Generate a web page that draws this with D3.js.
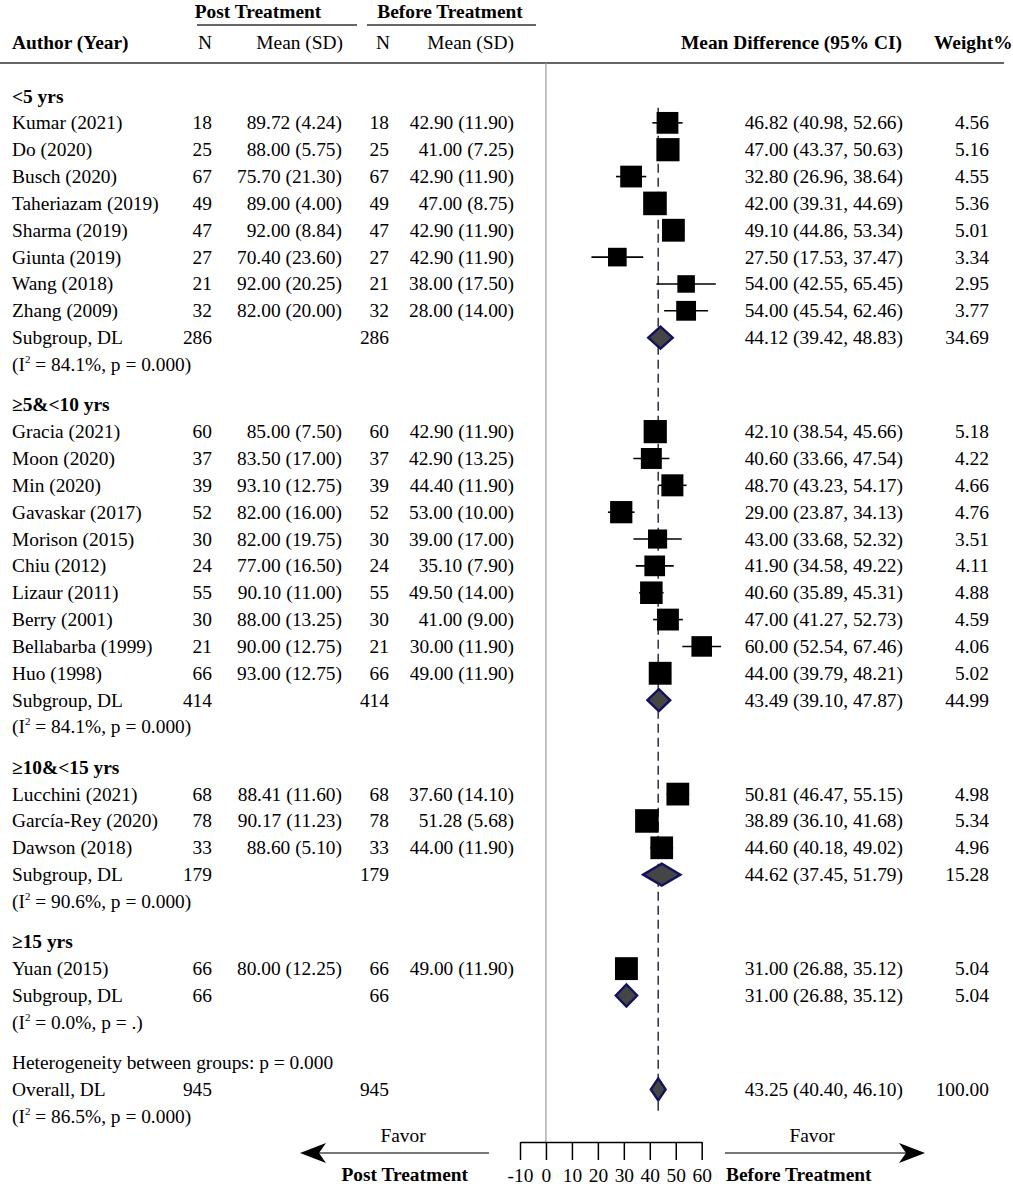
<!DOCTYPE html>
<html>
<head>
<meta charset="utf-8">
<script src="https://cdn.jsdelivr.net/npm/d3@7"></script>
<style>
  body { margin: 0; background: #fff; }
  text { font-family: "Liberation Serif", "Times New Roman", serif; font-size: 19.4px; fill: #000; }
</style>
</head>
<body>
<script>
// ---- data ----
const groupLabels = ["<5 yrs", "≥5&<10 yrs", "≥10&<15 yrs", "≥15 yrs"];

const studyNames = [
  "Kumar (2021)", "Do (2020)", "Busch (2020)", "Taheriazam (2019)", "Sharma (2019)",
  "Giunta (2019)", "Wang (2018)", "Zhang (2009)",
  "Gracia (2021)", "Moon (2020)", "Min (2020)", "Gavaskar (2017)", "Morison (2015)",
  "Chiu (2012)", "Lizaur (2011)", "Berry (2001)", "Bellabarba (1999)", "Huo (1998)",
  "Lucchini (2021)", "García-Rey (2020)", "Dawson (2018)",
  "Yuan (2015)"
];
const studyGroup = [0, 0, 0, 0, 0, 0, 0, 0, 1, 1, 1, 1, 1, 1, 1, 1, 1, 1, 2, 2, 2, 3];

const postN    = [18, 25, 67, 49, 47, 27, 21, 32, 60, 37, 39, 52, 30, 24, 55, 30, 21, 66, 68, 78, 33, 66];
const postMean = [89.72, 88.00, 75.70, 89.00, 92.00, 70.40, 92.00, 82.00, 85.00, 83.50, 93.10, 82.00, 82.00,
                  77.00, 90.10, 88.00, 90.00, 93.00, 88.41, 90.17, 88.60, 80.00];
const postSD   = [4.24, 5.75, 21.30, 4.00, 8.84, 23.60, 20.25, 20.00, 7.50, 17.00, 12.75, 16.00, 19.75,
                  16.50, 11.00, 13.25, 12.75, 12.75, 11.60, 11.23, 5.10, 12.25];

const beforeN    = [18, 25, 67, 49, 47, 27, 21, 32, 60, 37, 39, 52, 30, 24, 55, 30, 21, 66, 68, 78, 33, 66];
const beforeMean = [42.90, 41.00, 42.90, 47.00, 42.90, 42.90, 38.00, 28.00, 42.90, 42.90, 44.40, 53.00, 39.00,
                    35.10, 49.50, 41.00, 30.00, 49.00, 37.60, 51.28, 44.00, 49.00];
const beforeSD   = [11.90, 7.25, 11.90, 8.75, 11.90, 11.90, 17.50, 14.00, 11.90, 13.25, 11.90, 10.00, 17.00,
                    7.90, 14.00, 9.00, 11.90, 11.90, 14.10, 5.68, 11.90, 11.90];

const mdEst  = [46.82, 47.00, 32.80, 42.00, 49.10, 27.50, 54.00, 54.00, 42.10, 40.60, 48.70, 29.00, 43.00,
                41.90, 40.60, 47.00, 60.00, 44.00, 50.81, 38.89, 44.60, 31.00];
const mdLow  = [40.98, 43.37, 26.96, 39.31, 44.86, 17.53, 42.55, 45.54, 38.54, 33.66, 43.23, 23.87, 33.68,
                34.58, 35.89, 41.27, 52.54, 39.79, 46.47, 36.10, 40.18, 26.88];
const mdHigh = [52.66, 50.63, 38.64, 44.69, 53.34, 37.47, 65.45, 62.46, 45.66, 47.54, 54.17, 34.13, 52.32,
                49.22, 45.31, 52.73, 67.46, 48.21, 55.15, 41.68, 49.02, 35.12];
const weightPct = [4.56, 5.16, 4.55, 5.36, 5.01, 3.34, 2.95, 3.77, 5.18, 4.22, 4.66, 4.76, 3.51,
                   4.11, 4.88, 4.59, 4.06, 5.02, 4.98, 5.34, 4.96, 5.04];

const subN      = [286, 414, 179, 66];
const subEst    = [44.12, 43.49, 44.62, 31.00];
const subLow    = [39.42, 39.10, 37.45, 26.88];
const subHigh   = [48.83, 47.87, 51.79, 35.12];
const subWeight = [34.69, 44.99, 15.28, 5.04];
const subI2     = ["84.1", "84.1", "90.6", "0.0"];
const subP      = ["0.000", "0.000", "0.000", "."];

const overallN = 945;
const overallEst = 43.25, overallLow = 40.40, overallHigh = 46.10, overallWeight = 100;
const overallI2 = "86.5", overallP = "0.000";
const betweenP = "0.000";

const xTicks = [-10, 0, 10, 20, 30, 40, 50, 60];

// ---- layout ----
const W = 1013, H = 1190;
const svg = d3.select("body").append("svg").attr("width", W).attr("height", H);

const f2 = d3.format(".2f");
const col = { author: 12, postN: 212, postMean: 342, befN: 389, befMean: 514, md: 903, wt: 989 };

// x scale for mean difference
const x = d3.scaleLinear().domain([-10, 60]).range([520, 701.7]);
// y scale: row index -> pixel centre
const y = d3.scaleLinear().domain([0, 1]).range([96, 96 + 26.85]);

// walk the groups to make the row list
const rows = [];
let r = 0;
groupLabels.forEach((g, gi) => {
  rows.push({ type: "group", r: r, label: g });
  r += 1;
  studyNames.forEach((s, i) => {
    if (studyGroup[i] === gi) { rows.push({ type: "study", r: r, i: i }); r += 1; }
  });
  rows.push({ type: "sub", r: r, g: gi }); r += 1;
  rows.push({ type: "het", r: r, i2: subI2[gi], p: subP[gi] }); r += 1.5;
});
rows.push({ type: "between", r: r }); r += 1;
const overallRow = r;
rows.push({ type: "overall", r: r }); r += 1;
rows.push({ type: "het", r: r, i2: overallI2, p: overallP });

const base = 6.5; // text baseline offset from row centre

// ---- header ----
const head = svg.append("g");
head.append("text").attr("x", 258).attr("y", 18).attr("text-anchor", "middle")
  .style("font-weight", "bold").text("Post Treatment");
head.append("text").attr("x", 450).attr("y", 18).attr("text-anchor", "middle")
  .style("font-weight", "bold").text("Before Treatment");
head.append("line").attr("x1", 197).attr("x2", 357).attr("y1", 25).attr("y2", 25)
  .attr("stroke", "#333").attr("stroke-width", 1.5);
head.append("line").attr("x1", 367).attr("x2", 536).attr("y1", 25).attr("y2", 25)
  .attr("stroke", "#333").attr("stroke-width", 1.5);
head.append("text").attr("x", col.author).attr("y", 49).style("font-weight", "bold").text("Author (Year)");
head.append("text").attr("x", 205).attr("y", 49).attr("text-anchor", "middle").text("N");
head.append("text").attr("x", 343).attr("y", 49).attr("text-anchor", "end").text("Mean (SD)");
head.append("text").attr("x", 383).attr("y", 49).attr("text-anchor", "middle").text("N");
head.append("text").attr("x", 514).attr("y", 49).attr("text-anchor", "end").text("Mean (SD)");
head.append("text").attr("x", 681).attr("y", 49).style("font-weight", "bold").text("Mean Difference (95% CI)");
head.append("text").attr("x", 934).attr("y", 49).style("font-weight", "bold").text("Weight%");
head.append("line").attr("x1", 0).attr("x2", 1004).attr("y1", 63).attr("y2", 63)
  .attr("stroke", "#333").attr("stroke-width", 1.5);

// ---- reference lines ----
svg.append("line")
  .attr("x1", x(0)).attr("x2", x(0)).attr("y1", 63).attr("y2", 1142)
  .attr("stroke", "#999").attr("stroke-width", 1.2);
svg.append("line")
  .attr("x1", x(overallEst)).attr("x2", x(overallEst))
  .attr("y1", y(1) - 15).attr("y2", y(overallRow) + 22)
  .attr("stroke", "#3a3a4a").attr("stroke-width", 1.6).attr("stroke-dasharray", "9,5");

// ---- text columns ----
const txt = svg.append("g");
function addText(xp, row, s, anchor, bold) {
  return txt.append("text").attr("x", xp).attr("y", y(row) + base)
    .attr("text-anchor", anchor || "start")
    .style("font-weight", bold ? "bold" : null).text(s);
}
function addHet(row, i2, p) {
  const t = txt.append("text").attr("x", col.author).attr("y", y(row) + base);
  t.append("tspan").text("(I");
  t.append("tspan").attr("dy", -8).style("font-size", "11px").text("2");
  t.append("tspan").attr("dy", 8).text(" = " + i2 + "%, p = " + p + ")");
}

rows.forEach(d => {
  if (d.type === "group") {
    addText(col.author, d.r, d.label, "start", true);
  } else if (d.type === "study") {
    const i = d.i;
    addText(col.author, d.r, studyNames[i]);
    addText(col.postN, d.r, postN[i], "end");
    addText(col.postMean, d.r, f2(postMean[i]) + " (" + f2(postSD[i]) + ")", "end");
    addText(col.befN, d.r, beforeN[i], "end");
    addText(col.befMean, d.r, f2(beforeMean[i]) + " (" + f2(beforeSD[i]) + ")", "end");
    addText(col.md, d.r, f2(mdEst[i]) + " (" + f2(mdLow[i]) + ", " + f2(mdHigh[i]) + ")", "end");
    addText(col.wt, d.r, f2(weightPct[i]), "end");
  } else if (d.type === "sub") {
    const g = d.g;
    addText(col.author, d.r, "Subgroup, DL");
    addText(col.postN, d.r, subN[g], "end");
    addText(col.befN, d.r, subN[g], "end");
    addText(col.md, d.r, f2(subEst[g]) + " (" + f2(subLow[g]) + ", " + f2(subHigh[g]) + ")", "end");
    addText(col.wt, d.r, f2(subWeight[g]), "end");
  } else if (d.type === "het") {
    addHet(d.r, d.i2, d.p);
  } else if (d.type === "between") {
    addText(col.author, d.r, "Heterogeneity between groups: p = " + betweenP);
  } else if (d.type === "overall") {
    addText(col.author, d.r, "Overall, DL");
    addText(col.postN, d.r, overallN, "end");
    addText(col.befN, d.r, overallN, "end");
    addText(col.md, d.r, f2(overallEst) + " (" + f2(overallLow) + ", " + f2(overallHigh) + ")", "end");
    addText(col.wt, d.r, f2(overallWeight), "end");
  }
});

// ---- study marks ----
const studyRows = rows.filter(d => d.type === "study");
const marks = svg.append("g");
marks.selectAll("line.ci").data(studyRows).enter().append("line")
  .attr("class", "ci")
  .attr("x1", d => x(mdLow[d.i])).attr("x2", d => x(mdHigh[d.i]))
  .attr("y1", d => y(d.r)).attr("y2", d => y(d.r))
  .attr("stroke", "#000").attr("stroke-width", 1.6);
const side = w => 10.2 * Math.sqrt(w);
marks.selectAll("rect.box").data(studyRows).enter().append("rect")
  .attr("class", "box")
  .attr("x", d => x(mdEst[d.i]) - side(weightPct[d.i]) / 2)
  .attr("y", d => y(d.r) - side(weightPct[d.i]) / 2)
  .attr("width", d => side(weightPct[d.i]))
  .attr("height", d => side(weightPct[d.i]))
  .attr("fill", "#000");

// ---- diamonds ----
const diamonds = rows.filter(d => d.type === "sub").map(d => ({ r: d.r, est: subEst[d.g], lo: subLow[d.g], hi: subHigh[d.g] }));
diamonds.push({ r: overallRow, est: overallEst, lo: overallLow, hi: overallHigh });
const dh = 11;
marks.selectAll("path.dia").data(diamonds).enter().append("path")
  .attr("class", "dia")
  .attr("d", d => {
    const cy = y(d.r);
    return `M${x(d.lo)},${cy}L${x(d.est)},${cy - dh}L${x(d.hi)},${cy}L${x(d.est)},${cy + dh}Z`;
  })
  .attr("fill", "#454545").attr("stroke", "#12125e").attr("stroke-width", 2.4);

// ---- x axis ----
const axisY = 1142;
const axis = svg.append("g").attr("transform", `translate(0,${axisY})`)
  .call(d3.axisBottom(x).tickValues(xTicks).tickFormat(d => String(d))
    .tickSize(18).tickSizeOuter(0).tickPadding(8));
axis.select(".domain").attr("stroke", "#000").attr("stroke-width", 1.5);
axis.selectAll(".tick line").attr("stroke", "#000").attr("stroke-width", 1.5);
axis.selectAll(".tick text").style("font-family", "Liberation Serif").style("font-size", "19.4px").attr("fill", "#000");

// ---- favor arrows ----
const arrows = svg.append("g");
const arrowY = 1153;
arrows.append("line").attr("x1", 489).attr("x2", 318).attr("y1", arrowY).attr("y2", arrowY)
  .attr("stroke", "#777").attr("stroke-width", 2);
arrows.append("path").attr("d", `M300,${arrowY}L326,${arrowY - 10}L319,${arrowY}L326,${arrowY + 10}Z`).attr("fill", "#000");
arrows.append("line").attr("x1", 725).attr("x2", 907).attr("y1", arrowY).attr("y2", arrowY)
  .attr("stroke", "#777").attr("stroke-width", 2);
arrows.append("path").attr("d", `M925,${arrowY}L899,${arrowY - 10}L906,${arrowY}L899,${arrowY + 10}Z`).attr("fill", "#000");
arrows.append("text").attr("x", 403).attr("y", 1142).attr("text-anchor", "middle").text("Favor");
arrows.append("text").attr("x", 812).attr("y", 1142).attr("text-anchor", "middle").text("Favor");
arrows.append("text").attr("x", 468).attr("y", 1181).attr("text-anchor", "end").style("font-weight", "bold").text("Post Treatment");
arrows.append("text").attr("x", 726).attr("y", 1181).style("font-weight", "bold").text("Before Treatment");
</script>
</body>
</html>
